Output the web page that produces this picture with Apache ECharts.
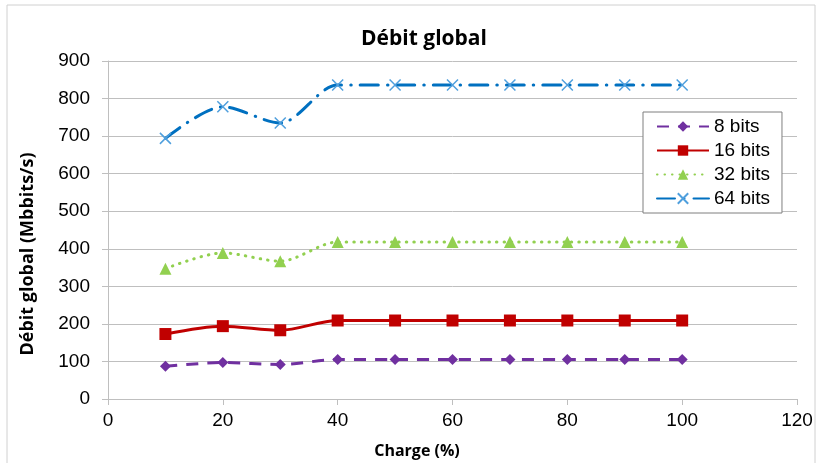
<!DOCTYPE html>
<html><head><meta charset="utf-8">
<script src="https://cdn.jsdelivr.net/npm/echarts@6/dist/echarts.min.js"></script>
<style>html,body{margin:0;padding:0;background:#fff}#c{width:818px;height:463px}</style>
</head><body><div id="c"></div>
<script>
const charge = [10, 20, 30, 40, 50, 60, 70, 80, 90, 100];
const bits8  = [87, 97, 92, 105, 105, 105, 105, 105, 105, 105];
const bits16 = [173, 194, 183, 209, 209, 209, 209, 209, 209, 209];
const bits32 = [347, 389, 367, 418, 418, 418, 418, 418, 418, 418];
const bits64 = [694, 778, 735, 836, 836, 836, 836, 836, 836, 836];
const seriesNames = ['8 bits', '16 bits', '32 bits', '64 bits'];
const titleText = 'Débit global';
const xName = 'Charge (%)';
const yName = 'Débit global (Mbbits/s)';

const pair = arr => charge.map((x, i) => [x, arr[i]]);
const xSym = 'path://M0,0 L10,10 M10,0 L0,10';
const fontF = '"Liberation Sans",Arial,sans-serif';
const boldF = '"Open Sans",sans-serif';

const chart = echarts.init(document.getElementById('c'), null, {renderer: 'canvas'});
chart.setOption({
  animation: false,
  backgroundColor: '#fff',
  graphic: [
    {type: 'rect', shape: {x: 7, y: 5, width: 808, height: 470}, style: {fill: 'none', stroke: '#D0D0D0', lineWidth: 1}, silent: true},
    {type: 'text', x: 28, y: 254, rotation: Math.PI / 2,
     style: {text: yName, font: 'bold 18px "Open Sans",sans-serif', fill: '#000', align: 'center', verticalAlign: 'middle', textAlign: 'center', textVerticalAlign: 'middle'}},
    {type: 'text', x: 417, y: 451,
     style: {text: xName, font: 'bold 16px "Open Sans",sans-serif', fill: '#000', align: 'center', verticalAlign: 'middle', textAlign: 'center', textVerticalAlign: 'middle'}}
  ],
  title: {text: titleText, left: 419, top: 24, textAlign: 'center',
    textStyle: {fontFamily: boldF, fontWeight: 'bold', fontSize: 21, color: '#000'}},
  grid: {left: 108, right: 21, top: 61, bottom: 64, containLabel: false},
  legend: {
    orient: 'vertical', left: 643, top: 112,
    padding: [5, 12, 5, 13], itemGap: 5, itemWidth: 52, itemHeight: 13,
    borderColor: '#7F7F7F', borderWidth: 1, backgroundColor: '#fff',
    textStyle: {fontFamily: fontF, fontSize: 19, color: '#000'},
    data: seriesNames
  },
  xAxis: {
    type: 'value', min: 0, max: 120, interval: 20,
    axisLine: {show: true, lineStyle: {color: '#BFBFBF', width: 1}},
    axisTick: {show: true, inside: false, length: 6, lineStyle: {color: '#BFBFBF'}},
    axisLabel: {fontFamily: fontF, fontSize: 19, color: '#000', margin: 12},
    splitLine: {show: false}
  },
  yAxis: {
    type: 'value', min: 0, max: 900, interval: 100,
    axisLine: {show: true, lineStyle: {color: '#BFBFBF', width: 1}},
    axisTick: {show: true, inside: false, length: 6, lineStyle: {color: '#BFBFBF'}},
    axisLabel: {fontFamily: fontF, fontSize: 19, color: '#000', margin: 18},
    splitLine: {show: true, lineStyle: {color: '#BFBFBF', width: 1}}
  },
  series: [
    {name: seriesNames[0], type: 'line', smooth: 0.3, data: pair(bits8),
     symbol: 'diamond', symbolSize: 11,
     lineStyle: {color: '#7030A0', width: 3, type: [12, 9]},
     itemStyle: {color: '#7030A0'}},
    {name: seriesNames[1], type: 'line', smooth: 0.3, data: pair(bits16),
     symbol: 'rect', symbolSize: 12,
     lineStyle: {color: '#C00000', width: 3, type: 'solid'},
     itemStyle: {color: '#C00000'}},
    {name: seriesNames[2], type: 'line', smooth: 0.3, data: pair(bits32),
     symbol: 'triangle', symbolSize: 12,
     lineStyle: {color: '#92D050', width: 3, type: [0.5, 7], cap: 'round'},
     itemStyle: {color: '#92D050'}},
    {name: seriesNames[3], type: 'line', smooth: 0.3, data: pair(bits64),
     symbol: xSym, symbolSize: 11,
     lineStyle: {color: '#0070C0', width: 3, type: [18, 9, 0.5, 9], cap: 'round'},
     itemStyle: {color: 'none', borderColor: '#4F9FDD', borderWidth: 1.5}}
  ]
});
</script></body></html>
